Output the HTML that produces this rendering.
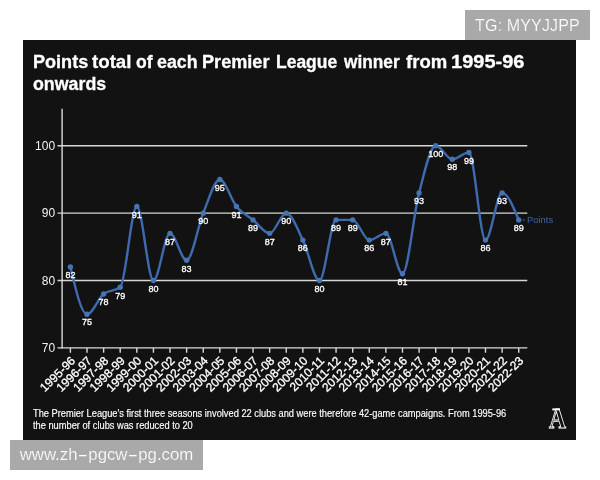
<!DOCTYPE html>
<html lang="en">
<head>
<meta charset="utf-8">
<title>Points total of each Premier League winner</title>
<style>
html,body{margin:0;padding:0;background:#fff;}
body{width:600px;height:480px;position:relative;overflow:hidden;font-family:"Liberation Sans",sans-serif;}
.panel{position:absolute;left:23px;top:40px;width:553px;height:400px;background:#121212;}
.title{position:absolute;left:0;top:0;margin:0;color:#fff;font-weight:bold;font-size:17.5px;line-height:21px;white-space:nowrap;}
.title span{position:absolute;display:block;transform-origin:0 0;-webkit-text-stroke:0.3px #fff;}
.note{position:absolute;left:33.4px;top:407px;margin:0;color:#fff;font-size:10px;line-height:12px;white-space:nowrap;transform-origin:0 0;transform:translateY(0.7px) scaleX(0.927);-webkit-text-stroke:0.15px #fff;}
.chart{position:absolute;left:0;top:0;}
.g{stroke:#d6d6d6;stroke-width:1.4;}
.ax{stroke:#dadada;stroke-width:1.4;}
.yl{fill:#f0f0f0;font-size:12px;font-family:"Liberation Sans",sans-serif;}
.xl{fill:#fff;stroke:#fff;stroke-width:0.3px;font-size:12px;font-family:"Liberation Sans",sans-serif;}
.dl{fill:#fff;stroke:#fff;stroke-width:0.3px;font-size:9px;font-family:"Liberation Sans",sans-serif;}
.ln{fill:none;stroke:#3e6bae;stroke-width:2.4;stroke-linejoin:round;stroke-linecap:round;}
.pt{fill:#4573b4;}
.sd{stroke:#3a64a2;stroke-width:1;}
.sl{fill:#3b66a6;font-size:9.5px;font-family:"Liberation Sans",sans-serif;}
.lg{fill:none;stroke:#fff;stroke-width:0.9;font-family:"Liberation Serif",serif;font-weight:bold;font-size:29px;}
.lgl{stroke:#fff;stroke-width:2;}
.wm{position:absolute;background:#a9a9a9;color:#fff;line-height:30px;height:30px;text-align:center;white-space:nowrap;overflow:hidden;-webkit-text-stroke:0.18px #a9a9a9;}
.wm1{left:465px;top:10px;width:125px;font-size:16px;letter-spacing:0.15px;line-height:32px;}
.wm2{left:10px;top:440px;width:193px;font-size:16.8px;}
.wm2 i{font-style:normal;display:inline-block;transform:scaleX(1.9);margin:0 2.6px;}
</style>
</head>
<body>
<div class="panel"></div>
<h1 class="title"><span style="left:32.61px;top:52.44px;transform:scaleX(1.0330)">Points</span> <span style="left:92.13px;top:52.44px;transform:scaleX(1.0676)">total</span> <span style="left:136.25px;top:52.44px;transform:scaleX(1.0032)">of</span> <span style="left:157.44px;top:52.44px;transform:scaleX(1.0158)">each</span> <span style="left:202.21px;top:52.44px;transform:scaleX(1.0353)">Premier</span> <span style="left:275.65px;top:52.44px;transform:scaleX(0.9983)">League</span> <span style="left:343.50px;top:52.44px;transform:scaleX(0.9867)">winner</span> <span style="left:405.64px;top:52.44px;transform:scaleX(1.0587)">from</span> <span style="left:451.16px;top:52.44px;transform:scaleX(1.1440)">1995-96</span> <span style="left:33.04px;top:73.64px;transform:scaleX(1.0170)">onwards</span></h1>
<svg class="chart" width="600" height="480" viewBox="0 0 600 480">
<line x1="57.50" x2="527.3" y1="145.75" y2="145.75" class="g"/>
<line x1="57.50" x2="527.3" y1="213.14" y2="213.14" class="g"/>
<line x1="57.50" x2="527.3" y1="280.53" y2="280.53" class="g"/>
<line x1="62.1" x2="62.1" y1="108.8" y2="348.62" class="ax"/>
<line x1="57.50" x2="527.3" y1="347.92" y2="347.92" class="ax"/>
<line x1="70.40" x2="70.40" y1="347.92" y2="352.72" class="ax"/>
<line x1="87.00" x2="87.00" y1="347.92" y2="352.72" class="ax"/>
<line x1="103.61" x2="103.61" y1="347.92" y2="352.72" class="ax"/>
<line x1="120.21" x2="120.21" y1="347.92" y2="352.72" class="ax"/>
<line x1="136.82" x2="136.82" y1="347.92" y2="352.72" class="ax"/>
<line x1="153.42" x2="153.42" y1="347.92" y2="352.72" class="ax"/>
<line x1="170.02" x2="170.02" y1="347.92" y2="352.72" class="ax"/>
<line x1="186.63" x2="186.63" y1="347.92" y2="352.72" class="ax"/>
<line x1="203.23" x2="203.23" y1="347.92" y2="352.72" class="ax"/>
<line x1="219.84" x2="219.84" y1="347.92" y2="352.72" class="ax"/>
<line x1="236.44" x2="236.44" y1="347.92" y2="352.72" class="ax"/>
<line x1="253.04" x2="253.04" y1="347.92" y2="352.72" class="ax"/>
<line x1="269.65" x2="269.65" y1="347.92" y2="352.72" class="ax"/>
<line x1="286.25" x2="286.25" y1="347.92" y2="352.72" class="ax"/>
<line x1="302.86" x2="302.86" y1="347.92" y2="352.72" class="ax"/>
<line x1="319.46" x2="319.46" y1="347.92" y2="352.72" class="ax"/>
<line x1="336.06" x2="336.06" y1="347.92" y2="352.72" class="ax"/>
<line x1="352.67" x2="352.67" y1="347.92" y2="352.72" class="ax"/>
<line x1="369.27" x2="369.27" y1="347.92" y2="352.72" class="ax"/>
<line x1="385.88" x2="385.88" y1="347.92" y2="352.72" class="ax"/>
<line x1="402.48" x2="402.48" y1="347.92" y2="352.72" class="ax"/>
<line x1="419.08" x2="419.08" y1="347.92" y2="352.72" class="ax"/>
<line x1="435.69" x2="435.69" y1="347.92" y2="352.72" class="ax"/>
<line x1="452.29" x2="452.29" y1="347.92" y2="352.72" class="ax"/>
<line x1="468.90" x2="468.90" y1="347.92" y2="352.72" class="ax"/>
<line x1="485.50" x2="485.50" y1="347.92" y2="352.72" class="ax"/>
<line x1="502.10" x2="502.10" y1="347.92" y2="352.72" class="ax"/>
<line x1="518.71" x2="518.71" y1="347.92" y2="352.72" class="ax"/>
<text class="yl" x="55.1" y="149.95" text-anchor="end">100</text>
<text class="yl" x="55.1" y="217.34" text-anchor="end">90</text>
<text class="yl" x="55.1" y="284.73" text-anchor="end">80</text>
<text class="yl" x="55.1" y="352.12" text-anchor="end">70</text>
<text class="xl" text-anchor="end" transform="translate(75.90,361.42) rotate(-45)">1995-96</text>
<text class="xl" text-anchor="end" transform="translate(92.50,361.42) rotate(-45)">1996-97</text>
<text class="xl" text-anchor="end" transform="translate(109.11,361.42) rotate(-45)">1997-98</text>
<text class="xl" text-anchor="end" transform="translate(125.71,361.42) rotate(-45)">1998-99</text>
<text class="xl" text-anchor="end" transform="translate(142.32,361.42) rotate(-45)">1999-00</text>
<text class="xl" text-anchor="end" transform="translate(158.92,361.42) rotate(-45)">2000-01</text>
<text class="xl" text-anchor="end" transform="translate(175.52,361.42) rotate(-45)">2001-02</text>
<text class="xl" text-anchor="end" transform="translate(192.13,361.42) rotate(-45)">2002-03</text>
<text class="xl" text-anchor="end" transform="translate(208.73,361.42) rotate(-45)">2003-04</text>
<text class="xl" text-anchor="end" transform="translate(225.34,361.42) rotate(-45)">2004-05</text>
<text class="xl" text-anchor="end" transform="translate(241.94,361.42) rotate(-45)">2005-06</text>
<text class="xl" text-anchor="end" transform="translate(258.54,361.42) rotate(-45)">2006-07</text>
<text class="xl" text-anchor="end" transform="translate(275.15,361.42) rotate(-45)">2007-08</text>
<text class="xl" text-anchor="end" transform="translate(291.75,361.42) rotate(-45)">2008-09</text>
<text class="xl" text-anchor="end" transform="translate(308.36,361.42) rotate(-45)">2009-10</text>
<text class="xl" text-anchor="end" transform="translate(324.96,361.42) rotate(-45)">2010-11</text>
<text class="xl" text-anchor="end" transform="translate(341.56,361.42) rotate(-45)">2011-12</text>
<text class="xl" text-anchor="end" transform="translate(358.17,361.42) rotate(-45)">2012-13</text>
<text class="xl" text-anchor="end" transform="translate(374.77,361.42) rotate(-45)">2013-14</text>
<text class="xl" text-anchor="end" transform="translate(391.38,361.42) rotate(-45)">2014-15</text>
<text class="xl" text-anchor="end" transform="translate(407.98,361.42) rotate(-45)">2015-16</text>
<text class="xl" text-anchor="end" transform="translate(424.58,361.42) rotate(-45)">2016-17</text>
<text class="xl" text-anchor="end" transform="translate(441.19,361.42) rotate(-45)">2017-18</text>
<text class="xl" text-anchor="end" transform="translate(457.79,361.42) rotate(-45)">2018-19</text>
<text class="xl" text-anchor="end" transform="translate(474.40,361.42) rotate(-45)">2019-20</text>
<text class="xl" text-anchor="end" transform="translate(491.00,361.42) rotate(-45)">2020-21</text>
<text class="xl" text-anchor="end" transform="translate(507.60,361.42) rotate(-45)">2021-22</text>
<text class="xl" text-anchor="end" transform="translate(524.21,361.42) rotate(-45)">2022-23</text>
<path d="M70.40,267.05C75.93,290.64 81.47,314.23 87.00,314.23C92.54,314.23 98.07,298.50 103.61,294.01C109.14,289.52 114.68,291.76 120.21,287.27C125.75,282.78 131.28,206.40 136.82,206.40C142.35,206.40 147.89,280.53 153.42,280.53C158.95,280.53 164.49,233.36 170.02,233.36C175.56,233.36 181.09,260.31 186.63,260.31C192.16,260.31 197.70,226.62 203.23,213.14C208.77,199.66 214.30,179.45 219.84,179.45C225.37,179.45 230.91,199.66 236.44,206.40C241.97,213.14 247.51,215.39 253.04,219.88C258.58,224.37 264.11,233.36 269.65,233.36C275.18,233.36 280.72,213.14 286.25,213.14C291.79,213.14 297.32,228.86 302.86,240.10C308.39,251.33 313.93,280.53 319.46,280.53C324.99,280.53 330.53,219.88 336.06,219.88C341.60,219.88 347.13,219.88 352.67,219.88C358.20,219.88 363.74,240.10 369.27,240.10C374.81,240.10 380.34,233.36 385.88,233.36C391.41,233.36 396.95,273.79 402.48,273.79C408.01,273.79 413.55,214.26 419.08,192.92C424.62,171.58 430.15,145.75 435.69,145.75C441.22,145.75 446.76,159.23 452.29,159.23C457.83,159.23 463.36,152.49 468.90,152.49C474.43,152.49 479.97,240.10 485.50,240.10C491.03,240.10 496.57,192.92 502.10,192.92C507.64,192.92 513.17,206.40 518.71,219.88" class="ln"/>
<circle cx="70.40" cy="267.05" r="2.7" class="pt"/>
<circle cx="87.00" cy="314.23" r="2.7" class="pt"/>
<circle cx="103.61" cy="294.01" r="2.7" class="pt"/>
<circle cx="120.21" cy="287.27" r="2.7" class="pt"/>
<circle cx="136.82" cy="206.40" r="2.7" class="pt"/>
<circle cx="153.42" cy="280.53" r="2.7" class="pt"/>
<circle cx="170.02" cy="233.36" r="2.7" class="pt"/>
<circle cx="186.63" cy="260.31" r="2.7" class="pt"/>
<circle cx="203.23" cy="213.14" r="2.7" class="pt"/>
<circle cx="219.84" cy="179.45" r="2.7" class="pt"/>
<circle cx="236.44" cy="206.40" r="2.7" class="pt"/>
<circle cx="253.04" cy="219.88" r="2.7" class="pt"/>
<circle cx="269.65" cy="233.36" r="2.7" class="pt"/>
<circle cx="286.25" cy="213.14" r="2.7" class="pt"/>
<circle cx="302.86" cy="240.10" r="2.7" class="pt"/>
<circle cx="319.46" cy="280.53" r="2.7" class="pt"/>
<circle cx="336.06" cy="219.88" r="2.7" class="pt"/>
<circle cx="352.67" cy="219.88" r="2.7" class="pt"/>
<circle cx="369.27" cy="240.10" r="2.7" class="pt"/>
<circle cx="385.88" cy="233.36" r="2.7" class="pt"/>
<circle cx="402.48" cy="273.79" r="2.7" class="pt"/>
<circle cx="419.08" cy="192.92" r="2.7" class="pt"/>
<circle cx="435.69" cy="145.75" r="2.7" class="pt"/>
<circle cx="452.29" cy="159.23" r="2.7" class="pt"/>
<circle cx="468.90" cy="152.49" r="2.7" class="pt"/>
<circle cx="485.50" cy="240.10" r="2.7" class="pt"/>
<circle cx="502.10" cy="192.92" r="2.7" class="pt"/>
<circle cx="518.71" cy="219.88" r="2.7" class="pt"/>
<text class="dl" x="70.40" y="278.30" text-anchor="middle">82</text>
<text class="dl" x="87.00" y="325.48" text-anchor="middle">75</text>
<text class="dl" x="103.61" y="305.26" text-anchor="middle">78</text>
<text class="dl" x="120.21" y="298.52" text-anchor="middle">79</text>
<text class="dl" x="136.82" y="217.65" text-anchor="middle">91</text>
<text class="dl" x="153.42" y="291.78" text-anchor="middle">80</text>
<text class="dl" x="170.02" y="244.61" text-anchor="middle">87</text>
<text class="dl" x="186.63" y="271.56" text-anchor="middle">83</text>
<text class="dl" x="203.23" y="224.39" text-anchor="middle">90</text>
<text class="dl" x="219.84" y="190.70" text-anchor="middle">95</text>
<text class="dl" x="236.44" y="217.65" text-anchor="middle">91</text>
<text class="dl" x="253.04" y="231.13" text-anchor="middle">89</text>
<text class="dl" x="269.65" y="244.61" text-anchor="middle">87</text>
<text class="dl" x="286.25" y="224.39" text-anchor="middle">90</text>
<text class="dl" x="302.86" y="251.35" text-anchor="middle">86</text>
<text class="dl" x="319.46" y="291.78" text-anchor="middle">80</text>
<text class="dl" x="336.06" y="231.13" text-anchor="middle">89</text>
<text class="dl" x="352.67" y="231.13" text-anchor="middle">89</text>
<text class="dl" x="369.27" y="251.35" text-anchor="middle">86</text>
<text class="dl" x="385.88" y="244.61" text-anchor="middle">87</text>
<text class="dl" x="402.48" y="285.04" text-anchor="middle">81</text>
<text class="dl" x="419.08" y="204.17" text-anchor="middle">93</text>
<text class="dl" x="435.69" y="157.00" text-anchor="middle">100</text>
<text class="dl" x="452.29" y="170.48" text-anchor="middle">98</text>
<text class="dl" x="468.90" y="163.74" text-anchor="middle">99</text>
<text class="dl" x="485.50" y="251.35" text-anchor="middle">86</text>
<text class="dl" x="502.10" y="204.17" text-anchor="middle">93</text>
<text class="dl" x="518.71" y="231.13" text-anchor="middle">89</text>
<line x1="522.5" x2="524.8" y1="219.88" y2="219.88" class="sd"/>
<text class="sl" x="527.0" textLength="26.2" lengthAdjust="spacingAndGlyphs" y="223.18">Points</text>
<g class="logo"><text class="lg" transform="translate(557.6,427.7) scale(0.81,1)" x="0" y="0" text-anchor="middle">A</text><line x1="552.3" x2="560" y1="409.4" y2="409.4" class="lgl"/></g>
</svg>
<p class="note">The Premier League's first three seasons involved 22 clubs and were therefore 42-game campaigns. From 1995-96<br>the number of clubs was reduced to 20</p>
<div class="wm wm1">TG: MYYJJPP</div>
<div class="wm wm2">www.zh<i>-</i>pgcw<i>-</i>pg.com</div>
</body>
</html>
